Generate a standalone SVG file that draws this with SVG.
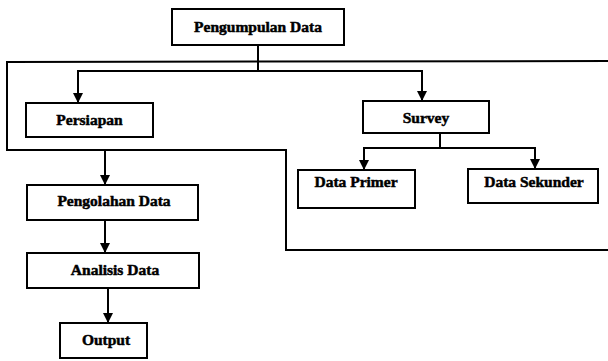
<svg xmlns="http://www.w3.org/2000/svg" width="608" height="361" viewBox="0 0 608 361">
  <style>
    .box { fill: #fff; stroke: #000; stroke-width: 2; }
    .lbl { font-size: 15.5px; fill: #000; stroke: #000; stroke-width: 0.5; text-anchor: middle; }
    .ln { fill: none; stroke: #000; stroke-width: 2; }
  </style>
  <defs>
    <marker id="arr" viewBox="0 0 10 10" refX="10" refY="5" markerWidth="10" markerHeight="10" markerUnits="userSpaceOnUse" orient="auto">
      <path d="M0,0 L10,5 L0,10 Z" fill="#000"/>
    </marker>
  </defs>

  <!-- connectors -->
  <g id="connectors">
    <!-- outer frame -->
    <polyline class="ln" points="608,61 7,62 7,150 286,150 286,250 608,250"/>
    <!-- split from Pengumpulan Data -->
    <line class="ln" x1="258" y1="45" x2="258" y2="71"/>
    <polyline class="ln" points="78,71 422,71"/>
    <line class="ln" x1="78" y1="70" x2="78" y2="103" marker-end="url(#arr)"/>
    <line class="ln" x1="422" y1="70" x2="422" y2="101" marker-end="url(#arr)"/>
    <!-- split from Survey -->
    <line class="ln" x1="440" y1="133" x2="440" y2="148"/>
    <polyline class="ln" points="364,148 535,148"/>
    <line class="ln" x1="364" y1="147" x2="364" y2="170" marker-end="url(#arr)"/>
    <line class="ln" x1="535" y1="147" x2="535" y2="169" marker-end="url(#arr)"/>
    <!-- processing chain -->
    <line class="ln" x1="105" y1="150" x2="105" y2="185" marker-end="url(#arr)"/>
    <line class="ln" x1="105" y1="220" x2="105" y2="253" marker-end="url(#arr)"/>
    <line class="ln" x1="108" y1="288" x2="108" y2="323" marker-end="url(#arr)"/>
  </g>

  <g font-family="Liberation Serif, DejaVu Serif, serif" font-weight="bold">
  <g id="pengumpulan">
    <rect class="box" x="172" y="9" width="172" height="36"/>
    <text class="lbl" x="258" y="32">Pengumpulan Data</text>
  </g>
  <g id="persiapan">
    <rect class="box" x="26" y="103" width="127" height="34"/>
    <text class="lbl" x="89.5" y="125">Persiapan</text>
  </g>
  <g id="survey">
    <rect class="box" x="363" y="101" width="126" height="32"/>
    <text class="lbl" x="426" y="123">Survey</text>
  </g>
  <g id="data-primer">
    <rect class="box" x="298" y="170" width="117" height="38"/>
    <text class="lbl" x="356" y="187">Data Primer</text>
  </g>
  <g id="data-sekunder">
    <rect class="box" x="468" y="169" width="130" height="34"/>
    <text class="lbl" x="534" y="187">Data Sekunder</text>
  </g>
  <g id="pengolahan">
    <rect class="box" x="27" y="185" width="171" height="35"/>
    <text class="lbl" x="114" y="206">Pengolahan Data</text>
  </g>
  <g id="analisis">
    <rect class="box" x="27" y="253" width="172" height="35"/>
    <text class="lbl" x="115" y="275">Analisis Data</text>
  </g>
  <g id="output">
    <rect class="box" x="60" y="323" width="87" height="35"/>
    <text class="lbl" x="106" y="345">Output</text>
  </g>
  </g>
</svg>
